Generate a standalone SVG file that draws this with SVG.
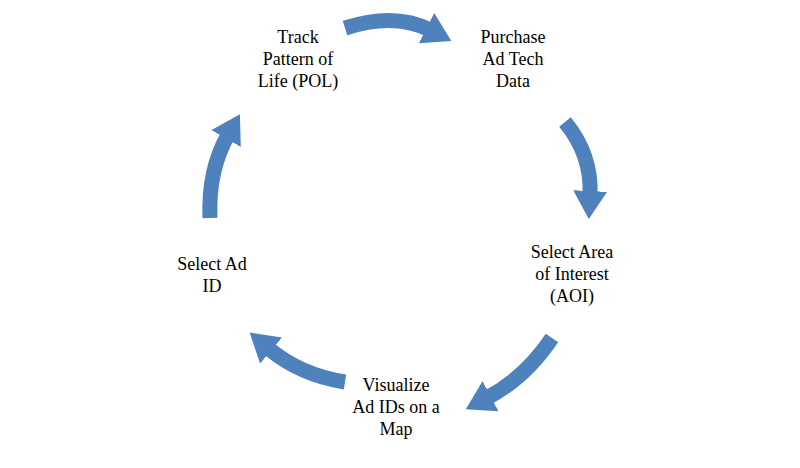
<svg xmlns="http://www.w3.org/2000/svg" width="800" height="468" viewBox="0 0 800 468">
<style>
.t{font-family:"Liberation Serif","Times New Roman",serif;font-size:18px;fill:#000;text-anchor:middle}
.a{fill:none;stroke:#4f81bd;stroke-width:15;marker-end:url(#h)}
</style>
<defs><marker id="h" markerUnits="userSpaceOnUse" markerWidth="30" markerHeight="34" refX="4" refY="17" orient="auto" viewBox="0 0 30 34"><path d="M0,0 L28,17 L0,34Z" fill="#4f81bd"/></marker></defs>
<rect width="800" height="468" fill="#fff"/>
<g id="connectors">
<path class="a" d="M345,28 Q395,12 430,30"/>
<path class="a" d="M565,122 Q592,155 590,195"/>
<path class="a" d="M552,338 Q525,378 487,398"/>
<path class="a" d="M345,382 Q300,375 268,348"/>
<path class="a" d="M210,218 Q208,170 228,135"/>
</g>
<g id="n1"><text class="t" x="298" y="43">Track</text><text class="t" x="298" y="65">Pattern of</text><text class="t" x="298" y="87">Life (POL)</text></g>
<g id="n2"><text class="t" x="513" y="43">Purchase</text><text class="t" x="513" y="65">Ad Tech</text><text class="t" x="513" y="87">Data</text></g>
<g id="n3"><text class="t" x="572" y="258">Select Area</text><text class="t" x="572" y="280">of Interest</text><text class="t" x="572" y="302">(AOI)</text></g>
<g id="n4"><text class="t" x="396" y="391">Visualize</text><text class="t" x="396" y="413">Ad IDs on a</text><text class="t" x="396" y="435">Map</text></g>
<g id="n5"><text class="t" x="212" y="270">Select Ad</text><text class="t" x="212" y="292">ID</text></g>
</svg>
